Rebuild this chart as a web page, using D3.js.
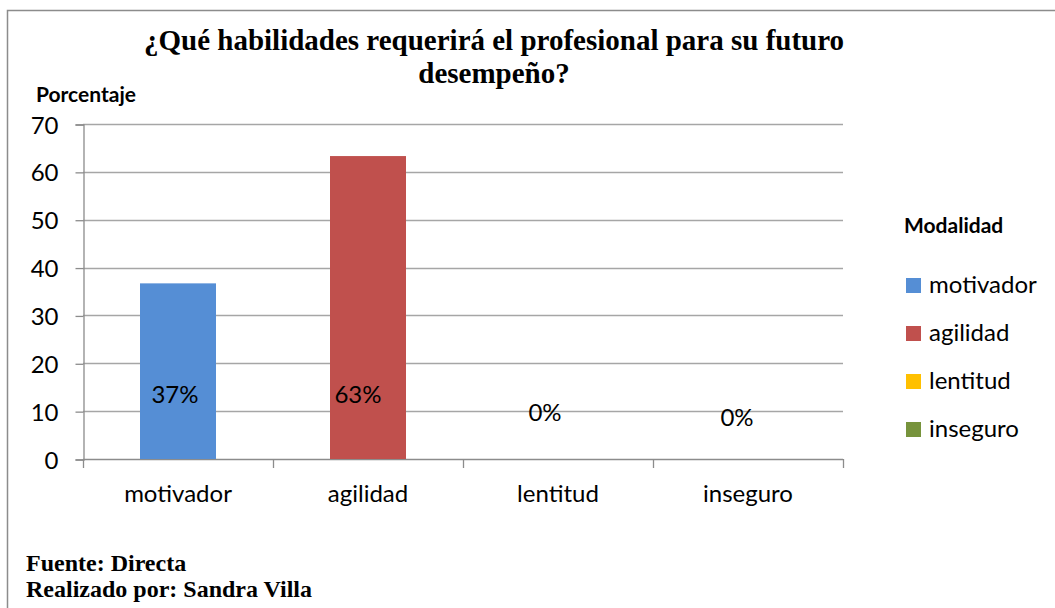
<!DOCTYPE html>
<html>
<head>
<meta charset="utf-8">
<script src="https://cdn.jsdelivr.net/npm/d3@7"></script>
<style>
    body { margin: 0; background: #fff; }
    svg { display: block; }
    .tick text, .cat text { font-family: Lato, 'Open Sans', sans-serif; }
</style>
</head>
<body>
<div id="chartDiv"></div>
<script>
'use strict';

// chart data
const categories = ['motivador', 'agilidad', 'lentitud', 'inseguro'];
const values = [36.7, 63.3, 0, 0];
const valueLabels = ['37%', '63%', '0%', '0%'];
const yTicks = [0, 10, 20, 30, 40, 50, 60, 70];
const colors = ['#558ed5', '#c0504d', '#ffc000', '#77933c'];

// label nudges in px from bar base centre (the labels were moved by hand in the original)
const labelNudge = [[-3, -56], [-10, -56], [-13, -38], [-11, -33]];

const width = 1055;
const height = 608;
const labelFont = 'Lato, "Open Sans", sans-serif';
const serifFont = '"Liberation Serif", "Times New Roman", serif';

function main() {
    let svg = d3.select('#chartDiv')
        .append('svg')
        .attr('width', width)
        .attr('height', height);

    svg.append('rect')
        .attr('width', width)
        .attr('height', height)
        .attr('fill', '#fff');

    // outer frame, only top and left edges are in the picture
    svg.append('path')
        .attr('d', `M7.5,${height} L7.5,10.5 L${width},10.5`)
        .attr('fill', 'none')
        .attr('stroke', '#8c8c8c')
        .attr('stroke-width', 1.5);

    // Scales
    let x = d3.scaleBand()
        .domain(categories)
        .range([83, 843])
        .paddingInner(0.6)
        .paddingOuter(0.3);

    let y = d3.scaleLinear()
        .domain([0, 70])
        .range([459, 124]);

    // Gridlines
    svg.append('g')
        .selectAll('line')
        .data(yTicks.slice(1))
        .enter()
        .append('line')
        .attr('x1', 83)
        .attr('x2', 843)
        .attr('y1', d => Math.round(y(d)) + 0.5)
        .attr('y2', d => Math.round(y(d)) + 0.5)
        .attr('stroke', '#a6a6a6')
        .attr('stroke-width', 1.3);

    // Y axis
    let yAxis = svg.append('g')
        .attr('transform', 'translate(83.5, 0.5)')
        .call(d3.axisLeft(y).tickValues(yTicks).tickSize(8).tickPadding(17));
    yAxis.select('.domain').attr('stroke', '#8c8c8c').attr('stroke-width', 1.3);
    yAxis.selectAll('.tick line').attr('stroke', '#8c8c8c').attr('stroke-width', 1.3);
    yAxis.selectAll('.tick text')
        .attr('font-size', 24)
        .attr('fill', '#000')
        .attr('dy', '0.36em');

    // X axis, ticks sit on the category boundaries
    svg.append('line')
        .attr('x1', 83).attr('x2', 843)
        .attr('y1', 459.5).attr('y2', 459.5)
        .attr('stroke', '#8c8c8c')
        .attr('stroke-width', 1.3);

    let boundaries = [x.range()[0]].concat(categories.map(c => x(c) + x.bandwidth() + x.step() * 0.3));
    svg.append('g')
        .selectAll('line')
        .data(boundaries)
        .enter()
        .append('line')
        .attr('x1', d => Math.round(d) + 0.5)
        .attr('x2', d => Math.round(d) + 0.5)
        .attr('y1', 459)
        .attr('y2', 468)
        .attr('stroke', '#8c8c8c')
        .attr('stroke-width', 1.3);

    svg.append('g')
        .classed('cat', true)
        .selectAll('text')
        .data(categories)
        .enter()
        .append('text')
        .attr('x', d => x(d) + x.bandwidth() / 2)
        .attr('y', 502)
        .attr('text-anchor', 'middle')
        .attr('font-size', 24)
        .text(d => d);

    // Bars
    svg.append('g')
        .selectAll('rect')
        .data(values)
        .enter()
        .append('rect')
        .attr('x', (d, i) => x(categories[i]))
        .attr('y', d => y(d))
        .attr('width', x.bandwidth())
        .attr('height', d => y(0) - y(d))
        .attr('fill', (d, i) => colors[i]);

    // Value labels
    svg.append('g')
        .selectAll('text')
        .data(valueLabels)
        .enter()
        .append('text')
        .attr('x', (d, i) => x(categories[i]) + x.bandwidth() / 2 + labelNudge[i][0])
        .attr('y', (d, i) => y(0) + labelNudge[i][1])
        .attr('text-anchor', 'middle')
        .attr('font-family', labelFont)
        .attr('font-size', 24)
        .text(d => d);

    // Title
    let title = svg.append('text')
        .attr('text-anchor', 'middle')
        .attr('font-family', serifFont)
        .attr('font-weight', 'bold')
        .attr('font-size', 29);
    title.append('tspan').attr('x', 494).attr('y', 50).text('¿Qué habilidades requerirá el profesional para su futuro');
    title.append('tspan').attr('x', 494).attr('y', 83).text('desempeño?');

    svg.append('text')
        .attr('x', 36)
        .attr('y', 102)
        .attr('font-family', labelFont)
        .attr('font-weight', 'bold')
        .attr('font-size', 21)
        .text('Porcentaje');

    // Legend
    svg.append('text')
        .attr('x', 904)
        .attr('y', 233)
        .attr('font-family', labelFont)
        .attr('font-weight', 'bold')
        .attr('font-size', 21)
        .text('Modalidad');

    let legend = svg.append('g')
        .selectAll('g')
        .data(categories)
        .enter()
        .append('g')
        .attr('transform', (d, i) => `translate(906, ${278 + i * 48})`);
    legend.append('rect')
        .attr('width', 15)
        .attr('height', 15)
        .attr('fill', (d, i) => colors[i]);
    legend.append('text')
        .attr('x', 23)
        .attr('y', 15)
        .attr('font-family', labelFont)
        .attr('font-size', 24)
        .text(d => d);

    // Footer
    let footer = svg.append('text')
        .attr('font-family', serifFont)
        .attr('font-weight', 'bold')
        .attr('font-size', 24);
    footer.append('tspan').attr('x', 26).attr('y', 571).text('Fuente: Directa');
    footer.append('tspan').attr('x', 26).attr('y', 597).text('Realizado por: Sandra Villa');
}
main();
</script>
</body>
</html>
